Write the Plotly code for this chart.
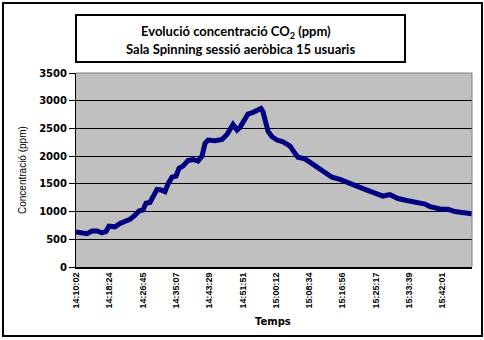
import pandas as pd
import plotly.graph_objects as go

# ---- data ----
times = ["14:10:02", "14:11:02", "14:12:48", "14:14:03", "14:15:18", "14:16:34", "14:17:34",
         "14:18:19", "14:19:49", "14:21:05", "14:22:20", "14:23:35", "14:24:51", "14:25:51",
         "14:26:51", "14:27:36", "14:28:36", "14:29:37", "14:30:22", "14:31:22", "14:32:22",
         "14:33:08", "14:34:08", "14:35:08", "14:35:53", "14:36:53", "14:38:09", "14:39:24",
         "14:40:39", "14:41:40", "14:42:25", "14:43:10", "14:44:55", "14:46:41", "14:47:56",
         "14:49:26", "14:50:27", "14:51:12", "14:51:57", "14:53:12", "14:54:28", "14:55:43",
         "14:56:28", "14:56:58", "14:57:28", "14:58:14", "14:59:14", "15:00:29", "15:01:59",
         "15:03:45", "15:05:00", "15:05:45", "15:07:31", "15:09:16", "15:10:47", "15:12:32",
         "15:14:17", "15:16:18", "15:18:03", "15:19:34", "15:20:49", "15:22:34", "15:23:50",
         "15:25:05", "15:27:05", "15:28:51", "15:30:51", "15:33:22", "15:35:53", "15:37:38",
         "15:38:53", "15:41:24", "15:43:24", "15:45:10", "15:46:55", "15:48:26", "15:49:26"]
co2 = [630, 615, 600, 650, 650, 615, 640,
       735, 725, 785, 815, 860, 935, 1010,
       1030, 1150, 1165, 1290, 1400, 1390, 1360,
       1500, 1620, 1640, 1780, 1820, 1920, 1940,
       1910, 2000, 2230, 2290, 2280, 2300, 2390,
       2570, 2470, 2520, 2600, 2760, 2790, 2830,
       2860, 2800, 2650, 2450, 2350, 2290, 2260,
       2180, 2050, 1980, 1950, 1860, 1780, 1690,
       1620, 1580, 1520, 1470, 1450, 1400, 1360,
       1320, 1280, 1305, 1235, 1195, 1160, 1135,
       1090, 1046, 1040, 1000, 985, 970, 960]
tick_labels = ["14:10:02", "14:18:24", "14:26:45", "14:35:07", "14:43:29", "14:51:51",
               "15:00:12", "15:08:34", "15:16:56", "15:25:17", "15:33:39", "15:42:01"]
y_ticks = [0, 500, 1000, 1500, 2000, 2500, 3000, 3500]
title_line1 = "Evolució concentració CO<sub>2</sub> (ppm)"
title_line2 = "Sala Spinning sessió aeròbica 15 usuaris"

day = "2010-01-01 "
x = pd.to_datetime([day + t for t in times])
tickvals = [day + t for t in tick_labels]

fig = go.Figure()
fig.add_trace(go.Scatter(x=x, y=co2, mode="lines",
                         line=dict(color="#000080", width=5), showlegend=False,
                         hoverinfo="skip"))

L, R, T, B = 76, 12, 73, 73
W, H = 484, 340
pw, ph = W - L - R, H - T - B


def px(xp):
    return (xp - L) / pw


def py(yp):
    return (H - B - yp) / ph


title_font = dict(family="Lato", size=13, color="black", weight="bold")

fig.update_layout(
    width=W, height=H,
    margin=dict(l=L, r=R, t=T, b=B, pad=0),
    paper_bgcolor="white",
    plot_bgcolor="#c0c0c0",
    xaxis=dict(
        type="date",
        range=[day + times[0], day + times[-1]],
        tickmode="array", tickvals=tickvals, ticktext=tick_labels,
        tickangle=-90,
        tickfont=dict(family="Liberation Sans", size=9, color="black", weight="bold"),
        showgrid=False, zeroline=False,
        showline=True, linecolor="black", linewidth=2,
        ticks="", automargin=False,
    ),
    yaxis=dict(
        range=[0, 3500], tickmode="array", tickvals=y_ticks,
        tickfont=dict(family="DejaVu Sans", size=10, color="black", weight="bold"),
        showgrid=True, gridcolor="black", gridwidth=1,
        zeroline=False,
        showline=True, linecolor="black", linewidth=1,
        ticks="outside", ticklen=6, tickcolor="black", tickwidth=1,
        automargin=False,
    ),
    shapes=[
        dict(type="line", xref="paper", yref="paper", x0=0, x1=1, y0=1, y1=1,
             line=dict(color="#808080", width=1)),
        dict(type="line", xref="paper", yref="paper", x0=1, x1=1, y0=0, y1=1,
             line=dict(color="#808080", width=1)),
        dict(type="rect", xref="paper", yref="paper",
             x0=px(3), x1=px(482), y0=py(336), y1=py(3),
             line=dict(color="black", width=2), fillcolor="rgba(0,0,0,0)"),
        dict(type="rect", xref="paper", yref="paper",
             x0=px(76), x1=px(405), y0=py(62), y1=py(15),
             line=dict(color="black", width=2), fillcolor="white"),
    ],
    annotations=[
        dict(text=title_line1, xref="paper", yref="paper", x=px(236), y=py(31.5),
             xanchor="center", yanchor="middle", showarrow=False, font=title_font),
        dict(text=title_line2, xref="paper", yref="paper", x=px(240), y=py(48.5),
             xanchor="center", yanchor="middle", showarrow=False, font=title_font),
        dict(text="Concentració (ppm)", xref="paper", yref="paper",
             x=px(22), y=py(170), xanchor="center", yanchor="middle",
             textangle=-90, showarrow=False,
             font=dict(family="Liberation Sans", size=10, color="black")),
        dict(text="Temps", xref="paper", yref="paper",
             x=px(273), y=py(321), xanchor="center", yanchor="middle",
             showarrow=False,
             font=dict(family="DejaVu Sans", size=10, color="black", weight="bold")),
    ],
)

fig.write_html("out.html")
